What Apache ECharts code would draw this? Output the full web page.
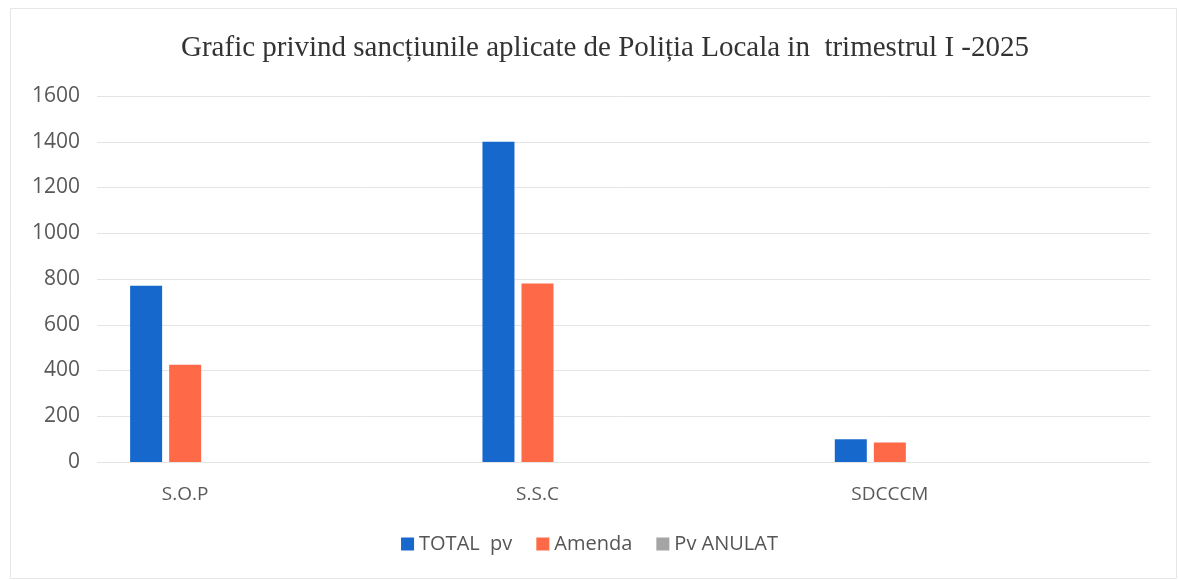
<!DOCTYPE html>
<html>
<head>
<meta charset="utf-8">
<script src="https://cdn.jsdelivr.net/npm/echarts@6/dist/echarts.min.js"></script>
<style>
  html, body { margin: 0; padding: 0; background: #fff; }
  #chart { width: 1179px; height: 580px; }
</style>
</head>
<body>
<div id="chart"></div>
<script>
const categories = ['S.O.P', 'S.S.C', 'SDCCCM']
const totalPv = [770, 1400, 100]
const amenda = [425, 780, 85]
const pvAnulat = [0, 0, 0]
const yTicks = { min: 0, max: 1600, interval: 200 }

const chart = echarts.init(document.getElementById('chart'))
const labelFont = '"Open Sans", Lato, sans-serif'

chart.setOption({
  backgroundColor: '#fff',
  animation: false,
  title: {
    text: 'Grafic privind sancțiunile aplicate de Poliția Locala in  trimestrul I -2025',
    left: 176, top: 29,
    textStyle: { fontFamily: '"Liberation Serif", serif', fontSize: 29, fontWeight: 'normal', color: '#333' }
  },
  legend: {
    bottom: 21, left: 'center', itemWidth: 13, itemHeight: 13, itemGap: 24,
    icon: 'rect',
    textStyle: { fontFamily: labelFont, fontSize: 20, color: '#555' },
    data: ['TOTAL  pv', 'Amenda', 'Pv ANULAT']
  },
  graphic: [{
    type: 'rect', left: 8, top: 6,
    shape: { width: 1166, height: 570 },
    style: { fill: 'none', stroke: '#e6e6e6', lineWidth: 1 }
  }],
  grid: [
    { left: 97, right: 29, top: 96, bottom: 118 },
    { left: 9, right: 113, top: 96, bottom: 118 }
  ],
  xAxis: [
    { gridIndex: 0, type: 'category', data: categories, show: false },
    { gridIndex: 1, type: 'category', data: categories,
      axisLine: { show: false }, axisTick: { show: false },
      axisLabel: { margin: 23, fontFamily: labelFont, fontSize: 19, color: '#595959' } }
  ],
  yAxis: [
    { gridIndex: 0, type: 'value', ...yTicks,
      axisLine: { show: false }, axisTick: { show: false },
      axisLabel: { margin: 17, fontFamily: labelFont, fontSize: 21, color: '#595959', formatter: v => String(v) },
      splitLine: { lineStyle: { color: '#e4e4e4', width: 1 } } },
    { gridIndex: 1, type: 'value', ...yTicks, show: false, splitLine: { show: false } }
  ],
  series: [
    { name: 'TOTAL  pv', type: 'bar', xAxisIndex: 1, yAxisIndex: 1, data: totalPv,
      barWidth: 32, barGap: '22%', itemStyle: { color: '#1668cc' } },
    { name: 'Amenda', type: 'bar', xAxisIndex: 1, yAxisIndex: 1, data: amenda,
      barWidth: 32, barGap: '22%', itemStyle: { color: '#fe6a47' } },
    { name: 'Pv ANULAT', type: 'bar', xAxisIndex: 1, yAxisIndex: 1, data: pvAnulat,
      barWidth: 32, barGap: '22%', itemStyle: { color: '#a5a5a5' } }
  ]
})
window.addEventListener('resize', () => chart.resize())
</script>
</body>
</html>
